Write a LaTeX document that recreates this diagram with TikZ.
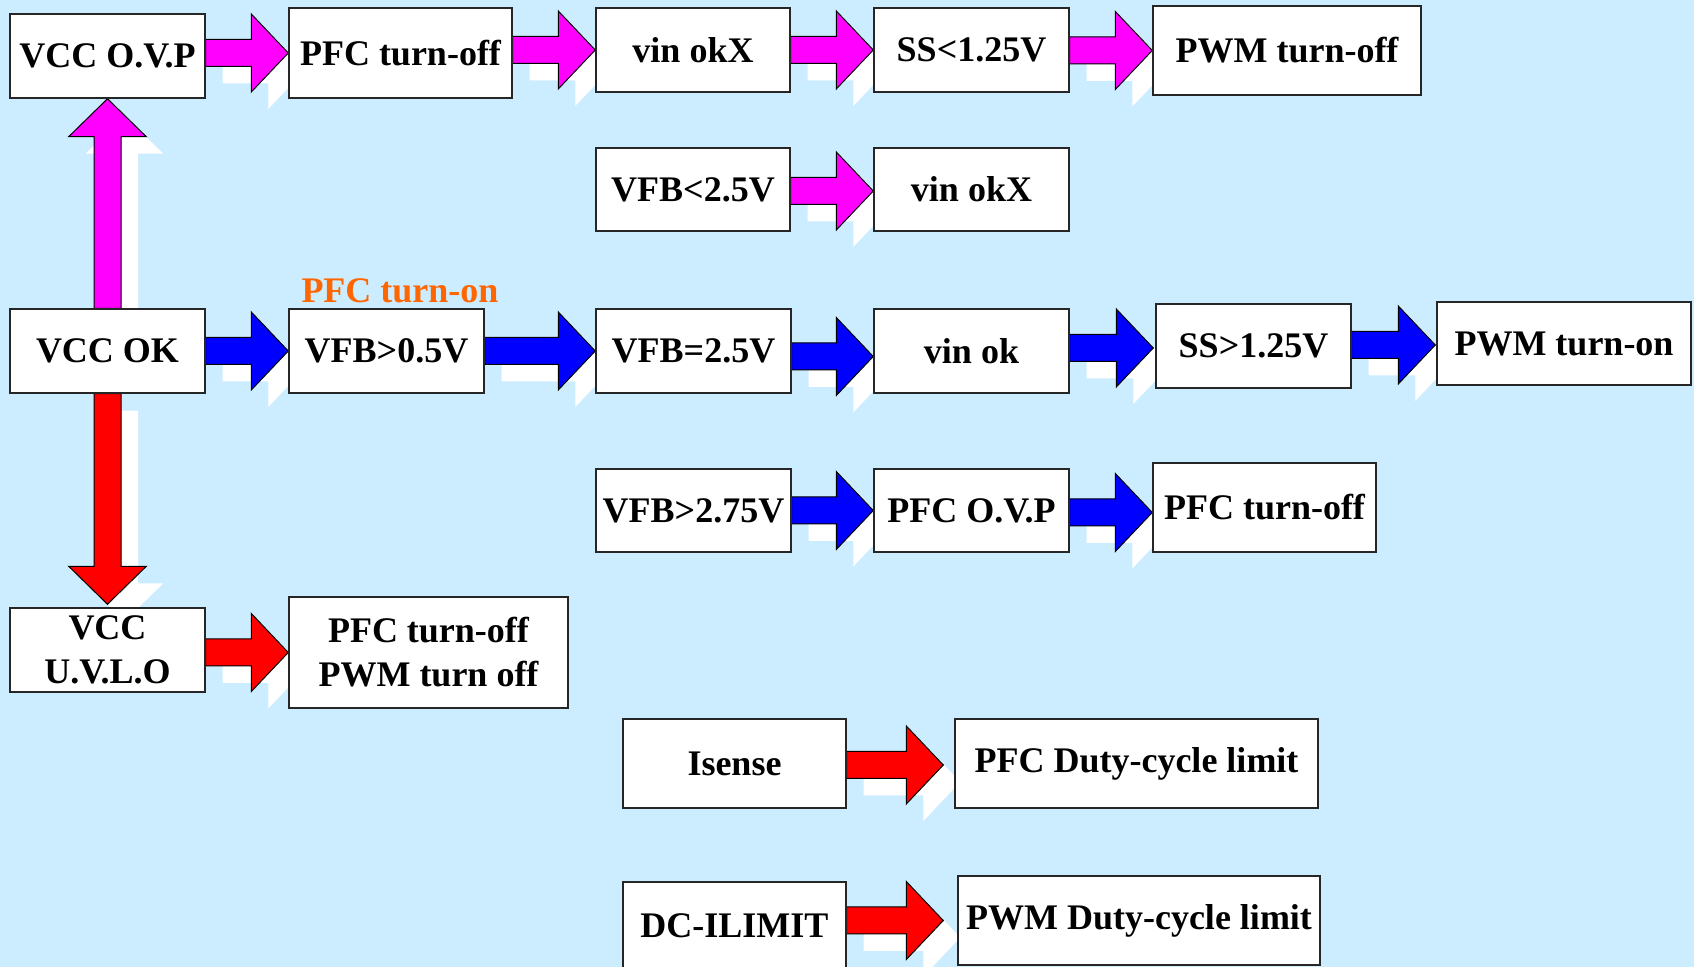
\documentclass[tikz,border=0pt]{standalone}
\usepackage{fontspec}
\setmainfont{Liberation Serif}
\usetikzlibrary{calc}
\definecolor{bgblue}{RGB}{204,236,255}
\definecolor{mag}{RGB}{255,0,255}
\definecolor{blu}{RGB}{0,0,255}
\definecolor{rd}{RGB}{255,0,0}
\definecolor{orng}{RGB}{255,102,0}
\pgfdeclarelayer{bg}
\pgfdeclarelayer{shadow}
\pgfdeclarelayer{arrows}
\pgfsetlayers{bg,shadow,arrows,main}
\tikzset{
  box/.style={draw=black!85, line width=0.7pt, fill=white, inner sep=0pt, align=center,
    font=\bfseries\fontsize{18}{22}\selectfont},
  lbl/.style={font=\bfseries\fontsize{18}{22}\selectfont, inner sep=0pt},
  arrowline/.style={draw=black, line width=0.5pt}
}
\newcommand\bx[6]{\node[box, minimum width={(#4-#2)*0.5pt}, minimum height={(#5-#3)*0.5pt}] (#1) at ({(#2+#4)/2},{(#3+#5)/2}) {#6};}
\newcommand\HShape[4]{let \p1=(#1), \p2=(#2) in
 ({\x1+(#3)},{\y2+(#4)+6.75pt}) -- ({\x2-18.5pt+(#3)},{\y2+(#4)+6.75pt}) -- ({\x2-18.5pt+(#3)},{\y2+(#4)+19.5pt}) -- ({\x2+(#3)},{\y2+(#4)}) -- ({\x2-18.5pt+(#3)},{\y2+(#4)-19.5pt}) -- ({\x2-18.5pt+(#3)},{\y2+(#4)-6.75pt}) -- ({\x1+(#3)},{\y2+(#4)-6.75pt}) -- cycle}
\newcommand\VShape[5]{let \p1=(#1), \p2=(#2) in
 ({\x2+(#3)-6.75pt},{\y1+(#4)}) -- ({\x2+(#3)-6.75pt},{\y2+(#4)-(#5)*19pt}) -- ({\x2+(#3)-19.4pt},{\y2+(#4)-(#5)*19pt}) -- ({\x2+(#3)},{\y2+(#4)}) -- ({\x2+(#3)+19.4pt},{\y2+(#4)-(#5)*19pt}) -- ({\x2+(#3)+6.75pt},{\y2+(#4)-(#5)*19pt}) -- ({\x2+(#3)+6.75pt},{\y1+(#4)}) -- cycle}
\newcommand\HArr[3]{%
 \begin{pgfonlayer}{shadow}\fill[white] \HShape{#2}{#3}{8.5pt}{-8.5pt};\end{pgfonlayer}
 \begin{pgfonlayer}{arrows}\filldraw[fill=#1, arrowline] \HShape{#2}{#3}{0pt}{0pt};\end{pgfonlayer}}
\newcommand\VArr[4]{%
 \begin{pgfonlayer}{shadow}\fill[white] \VShape{#2}{#3}{8.5pt}{-8.5pt}{#4};\end{pgfonlayer}
 \begin{pgfonlayer}{arrows}\filldraw[fill=#1, arrowline] \VShape{#2}{#3}{0pt}{0pt}{#4};\end{pgfonlayer}}
\begin{document}
\begin{tikzpicture}[x=0.5pt, y=-0.5pt]
\begin{pgfonlayer}{bg}
\fill[bgblue] (0,0) rectangle (1694,967);
\end{pgfonlayer}
\useasboundingbox (0,0) rectangle (1694,967);
% boxes
\bx{ovp}{10}{14}{205}{98}{VCC O.V.P}
\bx{pfcoffa}{289}{8}{512}{98}{PFC turn-off}
\bx{vinokxa}{596}{8}{790}{92}{vin okX}
\bx{ssl}{874}{8}{1069}{92}{SS<1.25V}
\bx{pwmoff}{1153}{6}{1421}{95}{PWM turn-off}
\bx{vfbl}{596}{148}{790}{231}{VFB<2.5V}
\bx{vinokxb}{874}{148}{1069}{231}{vin okX}
\bx{vccok}{10}{309}{205}{393}{VCC OK}
\bx{vfbh}{289}{309}{484}{393}{VFB>0.5V}
\bx{vfbe}{596}{309}{791}{393}{VFB=2.5V}
\bx{vinok}{874}{309}{1069}{393}{vin ok}
\bx{ssg}{1156}{304}{1351}{388}{SS>1.25V}
\bx{pwmon}{1437}{302}{1691}{385}{PWM turn-on}
\bx{vfbo}{596}{469}{791}{552}{VFB>2.75V}
\bx{pfcovp}{874}{469}{1069}{552}{PFC O.V.P}
\bx{pfcoffb}{1153}{463}{1376}{552}{PFC turn-off}
\bx{uvlo}{10}{608}{205}{692}{VCC\\U.V.L.O}
\bx{both}{289}{597}{568}{708}{PFC turn-off\\PWM turn off}
\bx{isense}{623}{719}{846}{808}{Isense}
\bx{pfcduty}{955}{719}{1318}{808}{PFC Duty-cycle limit}
\bx{dc}{623}{882}{846}{970}{DC-ILIMIT}
\bx{pwmduty}{958}{876}{1320}{965}{PWM Duty-cycle limit}
% label
\node[lbl, text=orng, anchor=base] (pfcon) at (400,303) {PFC turn-on};
% arrows
\HArr{mag}{ovp.east}{pfcoffa.west}
\HArr{mag}{pfcoffa.east}{vinokxa.west}
\HArr{mag}{vinokxa.east}{ssl.west}
\HArr{mag}{ssl.east}{pwmoff.west}
\HArr{mag}{vfbl.east}{$(vinokxb.west)+(0,1.5)$}
\VArr{mag}{vccok.north}{ovp.south}{1}
\HArr{blu}{vccok.east}{vfbh.west}
\HArr{blu}{vfbh.east}{vfbe.west}
\HArr{blu}{vfbe.east}{$(vinok.west)+(0,5.5)$}
\HArr{blu}{vinok.east}{$(ssg.west)+(-2,2)$}
\HArr{blu}{ssg.east}{$(pwmon.west)+(-1,1.5)$}
\HArr{blu}{vfbo.east}{pfcovp.west}
\HArr{blu}{pfcovp.east}{$(pfcoffb.west)+(0,5)$}
\VArr{rd}{vccok.south}{$(uvlo.north)+(0,-3)$}{-1}
\HArr{rd}{uvlo.east}{both.west}
\HArr{rd}{isense.east}{$(pfcduty.west)+(-11,1.5)$}
\HArr{rd}{dc.east}{$(pwmduty.west)+(-14,0)$}
\end{tikzpicture}
\end{document}
